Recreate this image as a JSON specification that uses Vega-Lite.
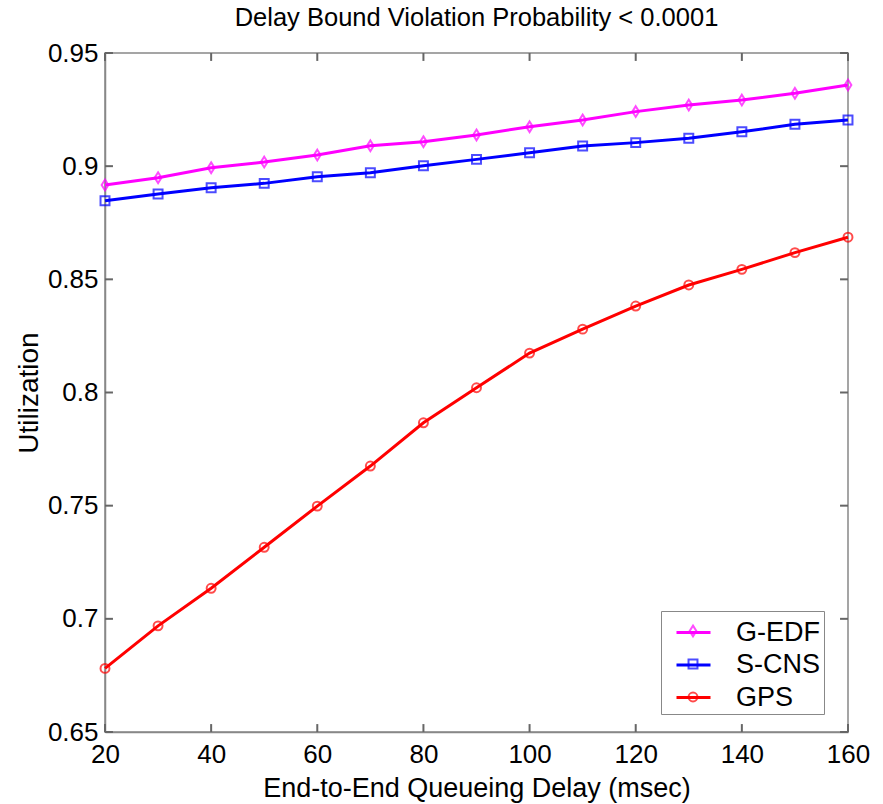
{
  "$schema": "https://vega.github.io/schema/vega-lite/v6.json",
  "width": 743,
  "height": 679,
  "autosize": {"type": "none"},
  "padding": {"left": 105, "top": 53, "right": 35, "bottom": 72},
  "background": "white",
  "title": {"text": "Delay Bound Violation Probability < 0.0001", "fontSize": 25.5, "fontWeight": "normal", "font": "Liberation Sans", "color": "black", "offset": 9},
  "config": {
    "font": "Liberation Sans",
    "view": {"stroke": "#888888", "strokeWidth": 1.5},
    "axis": {"grid": false, "domainColor": "#888888", "domainWidth": 1.5, "ticks": false, "tickSize": 0, "labelFontSize": 26, "labelColor": "black", "titleFontSize": 26, "titleFontWeight": "normal", "titleColor": "black", "labelFont": "Liberation Sans", "titleFont": "Liberation Sans", "labelFlush": false}
  },
  "datasets": {
    "series": [
      {"x": 20, "u": 0.8917, "s": "G-EDF"}, {"x": 30, "u": 0.8949, "s": "G-EDF"}, {"x": 40, "u": 0.8993, "s": "G-EDF"}, {"x": 50, "u": 0.9018, "s": "G-EDF"}, {"x": 60, "u": 0.9049, "s": "G-EDF"}, {"x": 70, "u": 0.909, "s": "G-EDF"}, {"x": 80, "u": 0.9108, "s": "G-EDF"}, {"x": 90, "u": 0.9138, "s": "G-EDF"}, {"x": 100, "u": 0.9174, "s": "G-EDF"}, {"x": 110, "u": 0.9204, "s": "G-EDF"}, {"x": 120, "u": 0.9241, "s": "G-EDF"}, {"x": 130, "u": 0.927, "s": "G-EDF"}, {"x": 140, "u": 0.9292, "s": "G-EDF"}, {"x": 150, "u": 0.9322, "s": "G-EDF"}, {"x": 160, "u": 0.9359, "s": "G-EDF"},
      {"x": 20, "u": 0.8847, "s": "S-CNS"}, {"x": 30, "u": 0.8877, "s": "S-CNS"}, {"x": 40, "u": 0.8905, "s": "S-CNS"}, {"x": 50, "u": 0.8924, "s": "S-CNS"}, {"x": 60, "u": 0.8953, "s": "S-CNS"}, {"x": 70, "u": 0.8971, "s": "S-CNS"}, {"x": 80, "u": 0.9002, "s": "S-CNS"}, {"x": 90, "u": 0.903, "s": "S-CNS"}, {"x": 100, "u": 0.9059, "s": "S-CNS"}, {"x": 110, "u": 0.9089, "s": "S-CNS"}, {"x": 120, "u": 0.9104, "s": "S-CNS"}, {"x": 130, "u": 0.9123, "s": "S-CNS"}, {"x": 140, "u": 0.9152, "s": "S-CNS"}, {"x": 150, "u": 0.9185, "s": "S-CNS"}, {"x": 160, "u": 0.9204, "s": "S-CNS"},
      {"x": 20, "u": 0.6781, "s": "GPS"}, {"x": 30, "u": 0.6969, "s": "GPS"}, {"x": 40, "u": 0.7135, "s": "GPS"}, {"x": 50, "u": 0.7316, "s": "GPS"}, {"x": 60, "u": 0.7498, "s": "GPS"}, {"x": 70, "u": 0.7675, "s": "GPS"}, {"x": 80, "u": 0.7866, "s": "GPS"}, {"x": 90, "u": 0.8021, "s": "GPS"}, {"x": 100, "u": 0.8174, "s": "GPS"}, {"x": 110, "u": 0.828, "s": "GPS"}, {"x": 120, "u": 0.8382, "s": "GPS"}, {"x": 130, "u": 0.8475, "s": "GPS"}, {"x": 140, "u": 0.8544, "s": "GPS"}, {"x": 150, "u": 0.8618, "s": "GPS"}, {"x": 160, "u": 0.8686, "s": "GPS"}
    ],
    "xticks": [{"t": 20}, {"t": 40}, {"t": 60}, {"t": 80}, {"t": 100}, {"t": 120}, {"t": 140}, {"t": 160}],
    "yticks": [{"t": 0.65}, {"t": 0.7}, {"t": 0.75}, {"t": 0.8}, {"t": 0.85}, {"t": 0.9}, {"t": 0.95}]
  },
  "data": {"name": "series"},
  "layer": [
    {
      "mark": {"type": "line", "strokeWidth": 3},
      "encoding": {
        "x": {"field": "x", "type": "quantitative", "scale": {"domain": [20, 160], "nice": false, "zero": false}, "axis": {"orient": "bottom", "values": [20, 40, 60, 80, 100, 120, 140, 160], "title": "End-to-End Queueing Delay (msec)", "titleFontSize": 27, "labelPadding": 9, "titlePadding": 8}},
        "y": {"field": "u", "type": "quantitative", "scale": {"domain": [0.65, 0.95], "nice": false, "zero": false}, "axis": {"orient": "left", "values": [0.65, 0.7, 0.75, 0.8, 0.85, 0.9, 0.95], "format": ".2~f", "title": "Utilization", "titleFontSize": 28, "labelPadding": 7, "titlePadding": 4}},
        "color": {"field": "s", "type": "nominal", "scale": {"domain": ["G-EDF", "S-CNS", "GPS"], "range": ["#ff00ff", "#0000ff", "#ff0000"]},
          "legend": {"orient": "none", "legendX": 556, "legendY": 558, "title": null, "labelFontSize": 27, "labelColor": "black", "labelFont": "Liberation Sans", "strokeColor": "#888888", "fillColor": "white", "padding": 3, "symbolOffset": 11, "rowPadding": 0.5, "symbolType": "stroke", "symbolSize": 1156, "symbolStrokeWidth": 3, "labelOffset": 24}},
        "detail": {"field": "s"}
      }
    },
    {
      "mark": {"type": "point", "filled": false, "strokeWidth": 2, "size": 80},
      "encoding": {
        "x": {"field": "x", "type": "quantitative"},
        "y": {"field": "u", "type": "quantitative"},
        "color": {"field": "s", "type": "nominal", "scale": {"domain": ["G-EDF", "S-CNS", "GPS"], "range": ["#ff00ff", "#0000ff", "#ff0000"]},
          "legend": {"orient": "none", "legendX": 556, "legendY": 558, "title": null, "labelFontSize": 27, "labelExpr": "''", "labelColor": "black", "labelFont": "Liberation Sans", "padding": 6.5, "symbolOffset": 12, "rowPadding": 5, "symbolSize": 80, "symbolStrokeWidth": 2, "labelOffset": 14}},
        "shape": {"field": "s", "type": "nominal", "scale": {"domain": ["G-EDF", "S-CNS", "GPS"], "range": ["M0,-1.2L0.75,0L0,1.2L-0.75,0Z", "square", "circle"]}}
      }
    },
    {
      "data": {"name": "xticks"},
      "mark": {"type": "rule", "color": "#666666", "strokeWidth": 2},
      "encoding": {
        "x": {"field": "t", "type": "quantitative"},
        "y": {"datum": 0.65, "type": "quantitative"},
        "y2": {"datum": 0.6535}
      }
    },
    {
      "data": {"name": "xticks"},
      "mark": {"type": "rule", "color": "#666666", "strokeWidth": 2},
      "encoding": {
        "x": {"field": "t", "type": "quantitative"},
        "y": {"datum": 0.95, "type": "quantitative"},
        "y2": {"datum": 0.9465}
      }
    },
    {
      "data": {"name": "yticks"},
      "mark": {"type": "rule", "color": "#666666", "strokeWidth": 2},
      "encoding": {
        "y": {"field": "t", "type": "quantitative"},
        "x": {"datum": 20, "type": "quantitative"},
        "x2": {"datum": 21.5}
      }
    },
    {
      "data": {"name": "yticks"},
      "mark": {"type": "rule", "color": "#666666", "strokeWidth": 2},
      "encoding": {
        "y": {"field": "t", "type": "quantitative"},
        "x": {"datum": 160, "type": "quantitative"},
        "x2": {"datum": 158.5}
      }
    }
  ],
  "resolve": {"scale": {"color": "independent", "shape": "independent"}}
}
